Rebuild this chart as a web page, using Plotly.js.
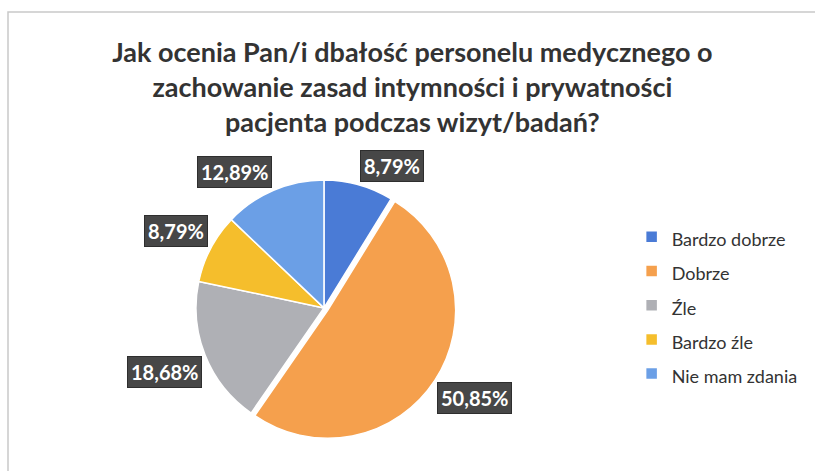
<!DOCTYPE html>
<html><head><meta charset="utf-8">
<script src="https://cdn.plot.ly/plotly-3.0.1.min.js"></script>
<style>html,body{margin:0;padding:0;background:#fff}#chart{width:815px;height:471px}</style>
</head><body><div id="chart"></div>
<script>
const categories = ["Bardzo dobrze", "Dobrze", "Źle", "Bardzo źle", "Nie mam zdania"];
const values = [8.79, 50.85, 18.68, 8.79, 12.89];
const colors = ["#4A7BD6", "#F5A04D", "#AFB0B5", "#F5BE2C", "#6B9FE6"];
const pulls = [0, 0.035, 0, 0, 0];
const titleText = "Jak ocenia Pan/i dbałość personelu medycznego o<br>zachowanie zasad intymności i prywatności<br>pacjenta podczas wizyt/badań?";

const W = 815, H = 471;
const domX = [0.235, 0.560], domY = [0.0648, 0.6278];

// label annotations derived from the data (slice mid-angles): nearest box corner on the mid-angle ray
const total = values.reduce((a, b) => a + b, 0);
const maxPull = Math.max(...pulls);
const cx = W * (domX[0] + domX[1]) / 2;
const cy = H * (1 - (domY[0] + domY[1]) / 2);
const r = Math.min(W * (domX[1] - domX[0]), H * (domY[1] - domY[0])) / (2 + 2 * maxPull);
let cum = 0;
const annotations = values.map((v, i) => {
  const mid = (cum + v / 2) / total * 2 * Math.PI;
  cum += v;
  const ux = Math.sin(mid), uy = -Math.cos(mid);
  const label = v.toFixed(2).replace('.', ',') + '%';
  const d = r * (1 + pulls[i]) + 3;
  const px = cx + ux * d, py = cy + uy * d;
  return {
    xref: 'paper', yref: 'paper', x: px / W, y: 1 - py / H,
    xanchor: ux >= 0 ? 'left' : 'right',
    yanchor: uy >= 0 ? 'top' : 'bottom',
    showarrow: false,
    text: '<b>' + label + '</b>',
    font: {family: 'Lato, sans-serif', size: 20, color: '#ffffff'},
    bgcolor: '#474747', bordercolor: '#2e2e2e', borderwidth: 1, borderpad: 3
  };
});

const data = [{
  type: 'pie',
  labels: categories.map(c => '<span style="font-size:18px">' + c + '</span>'),
  values: values,
  sort: false,
  direction: 'clockwise',
  rotation: 0,
  pull: pulls,
  marker: {colors: colors, line: {color: '#ffffff', width: 1.5}},
  textinfo: 'none',
  hoverinfo: 'label+percent',
  domain: {x: domX, y: domY}
}];

const layout = {
  width: W, height: H,
  margin: {l: 0, r: 0, t: 0, b: 0},
  paper_bgcolor: '#ffffff',
  title: {
    text: '<b>' + titleText + '</b>',
    font: {family: 'Lato, sans-serif', size: 27, color: '#333333'},
    x: 0.506, xanchor: 'center', y: 0.868, yanchor: 'middle'
  },
  showlegend: true,
  legend: {
    x: 0.775, xanchor: 'left', y: 0.352, yanchor: 'middle',
    font: {family: 'Lato, sans-serif', size: 24, color: '#333333'},
    bgcolor: 'rgba(0,0,0,0)'
  },
  annotations: annotations,
  shapes: [{
    type: 'rect', xref: 'paper', yref: 'paper',
    x0: 8 / W, x1: 1.02, y0: -0.02, y1: 1 - 12 / H,
    line: {color: '#c9c9c9', width: 1.5}, fillcolor: 'rgba(0,0,0,0)'
  }]
};

Plotly.newPlot('chart', data, layout, {displayModeBar: false, staticPlot: true});
</script>
</body></html>
